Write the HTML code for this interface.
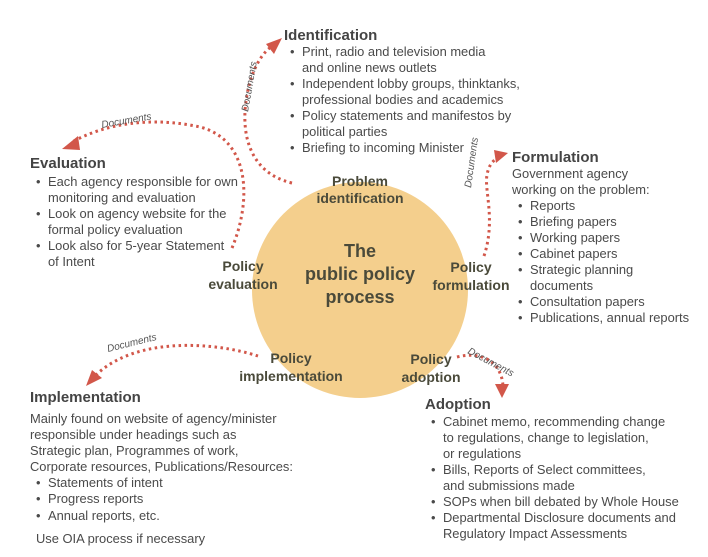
<!DOCTYPE html>
<html><head><meta charset="utf-8"><style>
html,body{margin:0;padding:0;background:#fff;width:708px;height:557px;overflow:hidden}
svg{display:block}
text{font-family:"Liberation Sans",sans-serif;fill:#4a4a4a}
.t{font-size:15px;font-weight:bold;fill:#444}
.b{font-size:12.9px}
.c{font-size:14px;font-weight:bold;fill:#4a4a3a}
.d{font-size:10px;font-style:italic;fill:#555}
.a{fill:none;stroke:#d2574a;stroke-width:3;stroke-dasharray:2.5 3.5}
.h{fill:#d2574a}
</style></head><body>
<svg width="708" height="557" viewBox="0 0 708 557">
<circle cx="360" cy="290" r="108" fill="#f4cf8d"/>
<g text-anchor="middle">
<text class="c" x="360" y="186">Problem</text>
<text class="c" x="360" y="203">identification</text>
<text class="c" x="360" y="257" style="font-size:18px">The</text>
<text class="c" x="360" y="280" style="font-size:18px">public policy</text>
<text class="c" x="360" y="303" style="font-size:18px">process</text>
<text class="c" x="243" y="271">Policy</text>
<text class="c" x="243" y="289">evaluation</text>
<text class="c" x="471" y="272">Policy</text>
<text class="c" x="471" y="290">formulation</text>
<text class="c" x="291" y="363">Policy</text>
<text class="c" x="291" y="381">implementation</text>
<text class="c" x="431" y="364">Policy</text>
<text class="c" x="431" y="382">adoption</text>
</g>
<path class="a" d="M292,183 C245,172 238,125 250,82 C256,62 264,52 272,46"/>
<polygon class="h" points="282,38 266,44 274,54"/>
<path class="a" d="M232,248 C252,200 250,140 200,127 C150,116 105,124 72,142"/>
<polygon class="h" points="62,149 78,136 80,150"/>
<path class="a" d="M484,256 C496,220 484,190 487,175 C489,163 495,159 500,157"/>
<polygon class="h" points="508,153 494,150 496,163"/>
<path class="a" d="M258,356 C215,342 135,336 95,376"/>
<polygon class="h" points="86,386 92,370 102,378"/>
<path class="a" d="M457,357 C485,350 503,365 503,388"/>
<polygon class="h" points="502,398 495,384 509,384"/>
<text class="d" transform="translate(248,112) rotate(-80)">Documents</text>
<text class="d" transform="translate(102,128) rotate(-10)">Documents</text>
<text class="d" transform="translate(471,188) rotate(-82)">Documents</text>
<text class="d" transform="translate(108,352) rotate(-14)">Documents</text>
<text class="d" transform="translate(467,353) rotate(28)">Documents</text>
<text class="t" x="284" y="40">Identification</text>
<g class="b">
<text x="290" y="56">•</text><text x="302" y="56">Print, radio and television media</text>
<text x="302" y="72">and online news outlets</text>
<text x="290" y="88">•</text><text x="302" y="88">Independent lobby groups, thinktanks,</text>
<text x="302" y="104">professional bodies and academics</text>
<text x="290" y="120">•</text><text x="302" y="120">Policy statements and manifestos by</text>
<text x="302" y="136">political parties</text>
<text x="290" y="152">•</text><text x="302" y="152">Briefing to incoming Minister</text>
</g>
<text class="t" x="30" y="168">Evaluation</text>
<g class="b">
<text x="36" y="186">•</text><text x="48" y="186">Each agency responsible for own</text>
<text x="48" y="202">monitoring and evaluation</text>
<text x="36" y="218">•</text><text x="48" y="218">Look on agency website for the</text>
<text x="48" y="234">formal policy evaluation</text>
<text x="36" y="250">•</text><text x="48" y="250">Look also for 5-year Statement</text>
<text x="48" y="266">of Intent</text>
</g>
<text class="t" x="512" y="162">Formulation</text>
<g class="b">
<text x="512" y="178">Government agency</text>
<text x="512" y="194">working on the problem:</text>
<text x="518" y="210">•</text><text x="530" y="210">Reports</text>
<text x="518" y="226">•</text><text x="530" y="226">Briefing papers</text>
<text x="518" y="242">•</text><text x="530" y="242">Working papers</text>
<text x="518" y="258">•</text><text x="530" y="258">Cabinet papers</text>
<text x="518" y="274">•</text><text x="530" y="274">Strategic planning</text>
<text x="530" y="290">documents</text>
<text x="518" y="306">•</text><text x="530" y="306">Consultation papers</text>
<text x="518" y="322">•</text><text x="530" y="322">Publications, annual reports</text>
</g>
<text class="t" x="30" y="402">Implementation</text>
<g class="b">
<text x="30" y="423">Mainly found on website of agency/minister</text>
<text x="30" y="439">responsible under headings such as</text>
<text x="30" y="455">Strategic plan, Programmes of work,</text>
<text x="30" y="471">Corporate resources, Publications/Resources:</text>
<text x="36" y="487">•</text><text x="48" y="487">Statements of intent</text>
<text x="36" y="503">•</text><text x="48" y="503">Progress reports</text>
<text x="36" y="520">•</text><text x="48" y="520">Annual reports, etc.</text>
<text x="36" y="543">Use OIA process if necessary</text>
</g>
<text class="t" x="425" y="409">Adoption</text>
<g class="b">
<text x="431" y="426">•</text><text x="443" y="426">Cabinet memo, recommending change</text>
<text x="443" y="442">to regulations, change to legislation,</text>
<text x="443" y="458">or regulations</text>
<text x="431" y="474">•</text><text x="443" y="474">Bills, Reports of Select committees,</text>
<text x="443" y="490">and submissions made</text>
<text x="431" y="506">•</text><text x="443" y="506">SOPs when bill debated by Whole House</text>
<text x="431" y="522">•</text><text x="443" y="522">Departmental Disclosure documents and</text>
<text x="443" y="538">Regulatory Impact Assessments</text>
</g>
</svg>
</body></html>
